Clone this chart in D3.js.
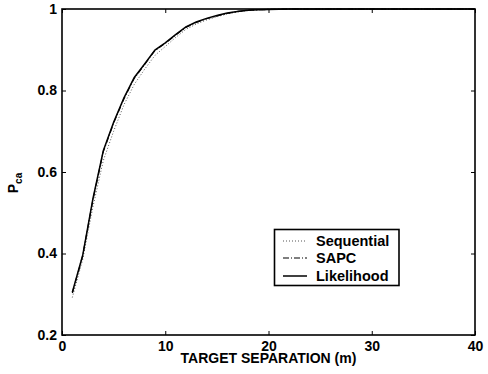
<!DOCTYPE html>
<html><head><meta charset="utf-8">
<script src="https://cdn.jsdelivr.net/npm/d3@7"></script>
<style>body{margin:0;background:#fff}svg text{font-family:"Liberation Sans",Arial,sans-serif;font-weight:bold}</style>
</head><body><svg id="c" width="488" height="374"></svg>
<script>
const xVals = [1,2,3,4,5,6,7,8,9,10,11,12,13,14,15,16,17,18,19,20,22,25,30,35,40];
const sequential = [0.292,0.385,0.515,0.628,0.700,0.765,0.815,0.852,0.886,0.908,0.930,0.950,0.963,0.973,0.981,0.988,0.993,0.996,0.998,0.999,1,1,1,1,1];
const sapc       = [0.303,0.394,0.532,0.650,0.720,0.780,0.830,0.864,0.898,0.916,0.936,0.955,0.967,0.976,0.983,0.989,0.994,0.997,0.998,0.999,1,1,1,1,1];
const likelihood = [0.305,0.395,0.535,0.652,0.722,0.782,0.832,0.865,0.899,0.917,0.937,0.956,0.968,0.977,0.984,0.990,0.994,0.997,0.998,0.999,1,1,1,1,1];
const xTicks = [0,10,20,30,40];
const yTicks = [0.2,0.4,0.6,0.8,1];
const seriesNames = ["Sequential","SAPC","Likelihood"];

const svg = d3.select("#c");
const L=62,R=475,T=9,B=335;
const x = d3.scaleLinear().domain([0,40]).range([L,R]);
const y = d3.scaleLinear().domain([0.2,1]).range([B,T]);

const fmtY = d => d===1?"1":d3.format(".1f")(d);
const gx = svg.append("g").attr("transform",`translate(0,${B})`)
  .call(d3.axisBottom(x).tickValues(xTicks).tickSizeInner(-4).tickSizeOuter(0).tickPadding(6));
const gy = svg.append("g").attr("transform",`translate(${L},0)`)
  .call(d3.axisLeft(y).tickValues(yTicks).tickFormat(fmtY).tickSizeInner(-4).tickSizeOuter(0).tickPadding(5));
const gxt = svg.append("g").attr("transform",`translate(0,${T})`)
  .call(d3.axisTop(x).tickValues(xTicks).tickSizeInner(-4).tickSizeOuter(0).tickFormat(""));
const gyr = svg.append("g").attr("transform",`translate(${R},0)`)
  .call(d3.axisRight(y).tickValues(yTicks).tickSizeInner(-4).tickSizeOuter(0).tickFormat(""));
[gx,gy,gxt,gyr].forEach(g=>{
  g.select(".domain").remove();
  g.selectAll("line").attr("stroke","#000").attr("stroke-width",1);
  g.selectAll("text").attr("font-size",14).attr("font-family","Liberation Sans, Arial, sans-serif").attr("font-weight","bold").attr("fill","#000");
});
gx.selectAll("text").attr("dy","0.71em");

const line = d3.line().x((d,i)=>x(xVals[i])).y(d=>y(d));
svg.append("path").datum(sequential).attr("d",line).attr("fill","none").attr("stroke","#555").attr("stroke-width",1).attr("stroke-dasharray","1,2");
svg.append("path").datum(sapc).attr("d",line).attr("fill","none").attr("stroke","#000").attr("stroke-width",1.2).attr("stroke-dasharray","6,2,1,2");
svg.append("path").datum(likelihood).attr("d",line).attr("fill","none").attr("stroke","#000").attr("stroke-width",1.5);

svg.append("rect").attr("x",L).attr("y",T).attr("width",R-L).attr("height",B-T)
  .attr("fill","none").attr("stroke","#000").attr("stroke-width",1.6);

svg.append("text").attr("x",(L+R)/2).attr("y",363).attr("text-anchor","middle").attr("font-size",14).text("TARGET SEPARATION (m)");
const yl = svg.append("text").attr("transform","translate(18,183) rotate(-90)").attr("text-anchor","middle").attr("font-size",14);
yl.append("tspan").text("P");
yl.append("tspan").attr("font-size",10).attr("dy",4).text("ca");

const lg = svg.append("g");
lg.append("rect").attr("x",274.5).attr("y",229.5).attr("width",124.5).attr("height",56).attr("fill","#fff").attr("stroke","#000").attr("stroke-width",1.6);
const styles = [{s:"#555",w:1,da:"1,2"},{s:"#000",w:1.2,da:"6,2,1,2"},{s:"#000",w:1.5,da:null}];
const rowsY = [241,258,276];
seriesNames.forEach((n,i)=>{
  lg.append("line").attr("x1",283).attr("x2",307).attr("y1",rowsY[i]).attr("y2",rowsY[i])
    .attr("stroke",styles[i].s).attr("stroke-width",styles[i].w).attr("stroke-dasharray",styles[i].da);
  lg.append("text").attr("x",316).attr("y",rowsY[i]).attr("dy","0.36em").attr("font-size",14.5).text(n);
});
</script></body></html>
